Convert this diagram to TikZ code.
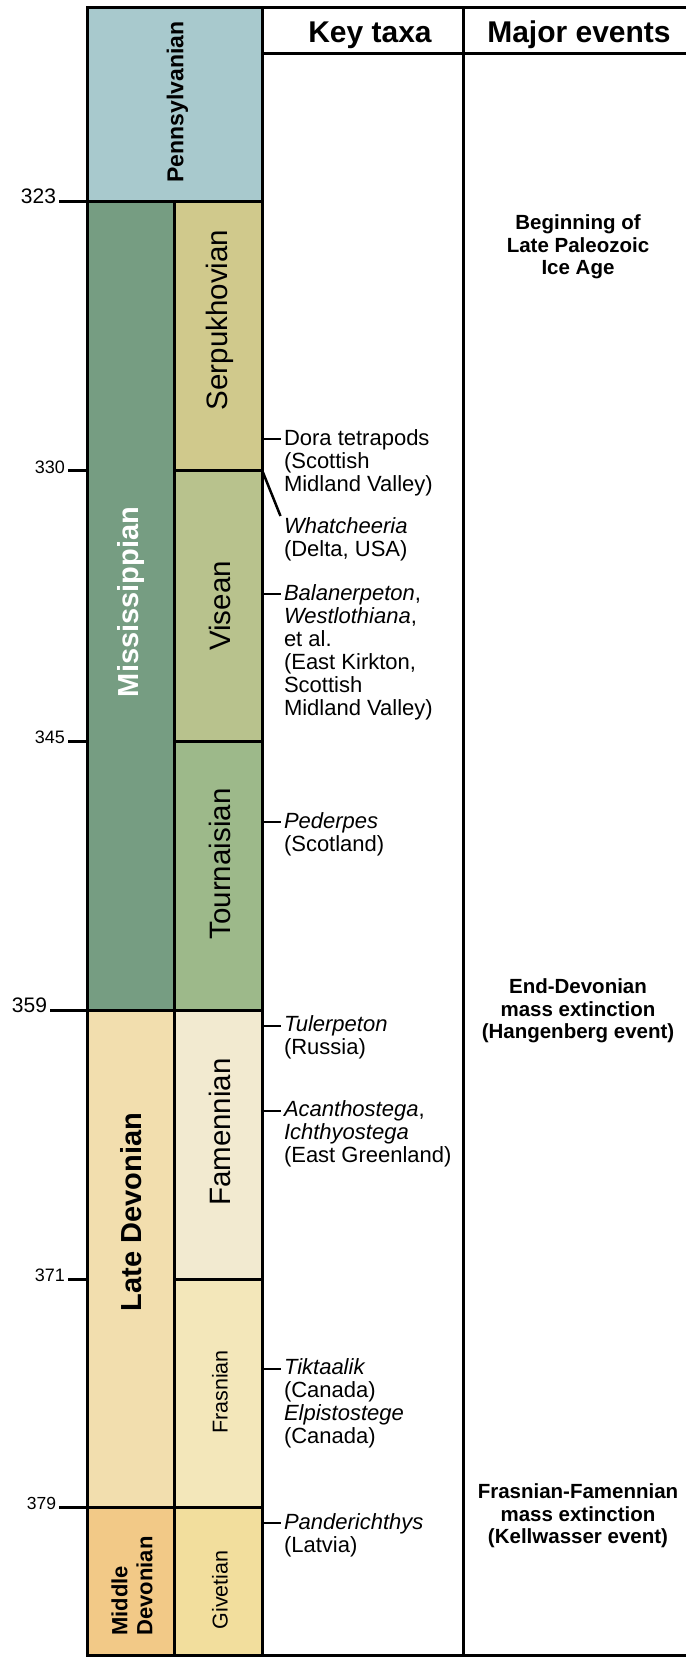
\documentclass[tikz,border=0pt]{standalone}
\usepackage{fontspec}
\setmainfont{Liberation Sans}
\usetikzlibrary{positioning}
\definecolor{pennblue}{HTML}{A8C9CD}
\definecolor{missgreen}{HTML}{769D82}
\definecolor{serpcol}{HTML}{D0C98C}
\definecolor{visecol}{HTML}{B8C28D}
\definecolor{tourcol}{HTML}{9DB98A}
\definecolor{latedev}{HTML}{F2DEAE}
\definecolor{famecol}{HTML}{F2EAD0}
\definecolor{frascol}{HTML}{F3E7BA}
\definecolor{middev}{HTML}{F2C987}
\definecolor{givecol}{HTML}{F2DE9D}

\begin{document}
\begin{tikzpicture}[x=1pt,y=-1pt,line width=3pt,
  period/.style={rotate=90,inner sep=0pt,font=\fontsize{29}{31}\selectfont\bfseries},
  smallperiod/.style={rotate=90,inner sep=0pt,align=left,font=\fontsize{22}{25}\selectfont\bfseries},
  stage/.style={rotate=90,inner sep=0pt,font=\fontsize{29.5}{31}\selectfont},
  smallstage/.style={rotate=90,inner sep=0pt,font=\fontsize{21.5}{24}\selectfont},
  age/.style={anchor=base east,inner sep=0pt,inner xsep=1.5pt,font=\fontsize{18}{20}\selectfont},
  bigage/.style={age,font=\fontsize{21}{23}\selectfont},
  taxon/.style={anchor=north west,inner sep=0pt,inner xsep=2pt,align=left,font=\fontsize{22}{23}\selectfont},
  event/.style={align=center,inner sep=0pt,font=\fontsize{20.5}{22.5}\selectfont\bfseries},
  head/.style={anchor=base,inner sep=0pt,font=\fontsize{30}{32}\selectfont\bfseries},
  tick/.style={line width=2.5pt}]
  \useasboundingbox (0,0) rectangle (686,1657);

  \fill[pennblue] (87.5,7) rectangle (262,201);
  \fill[missgreen] (87.5,201) rectangle (174,1010);
  \fill[serpcol] (174,201) rectangle (262,470);
  \fill[visecol] (174,470) rectangle (262,741);
  \fill[tourcol] (174,741) rectangle (262,1010);
  \fill[latedev] (87.5,1010) rectangle (174,1507);
  \fill[famecol] (174,1010) rectangle (262,1279);
  \fill[frascol] (174,1279) rectangle (262,1507);
  \fill[middev] (87.5,1507) rectangle (174,1655);
  \fill[givecol] (174,1507) rectangle (262,1655);

  \draw (686,7) -- (87.5,7) -- (87.5,1655) -- (686,1655);
  \draw (262,53) -- (686,53);
  \draw (174,201) -- (174,1655);
  \draw (262,7) -- (262,1655);
  \draw (463,7) -- (463,1655);
  \draw (87.5,201) -- (262,201);
  \draw (174,470) -- (262,470);
  \draw (174,741) -- (262,741);
  \draw (87.5,1010) -- (262,1010);
  \draw (174,1279) -- (262,1279);
  \draw (87.5,1507) -- (262,1507);

  \node[head] (keyhead) at (370,42) {Key taxa};
  \node[head] (evhead) at (579,42) {Major events};

  \node[smallperiod,font=\fontsize{23}{25}\selectfont\bfseries] (penn) at (177.5,102) {Pennsylvanian};
  \node[period,white] (miss) at (131.5,602) {Mississippian};
  \node[period] (ldev) at (131.5,1212) {Late Devonian};
  \node[smallperiod] (mdev) at (132,1586) {Middle\\Devonian};

  \node[stage] (serp) at (219.5,320) {Serpukhovian};
  \node[stage] (vise) at (220,606) {Visean};
  \node[stage] (tour) at (220,864) {Tournaisian};
  \node[stage] (fame) at (220,1132) {Famennian};
  \node[smallstage] (fras) at (220,1392) {Frasnian};
  \node[smallstage] (give) at (220,1590) {Givetian};

  \coordinate (e323) at (87.5,201);
  \coordinate (e330) at (87.5,470);
  \coordinate (e345) at (87.5,741);
  \coordinate (e359) at (87.5,1010);
  \coordinate (e371) at (87.5,1279);
  \coordinate (e379) at (87.5,1507);
  \node[bigage] (a323) at (59,203.5) {323};
  \node[age] (a330) at (68,473) {330};
  \node[age] (a345) at (68,743.5) {345};
  \node[bigage] (a359) at (50,1012) {359};
  \node[age] (a371) at (68,1281.5) {371};
  \node[age,font=\fontsize{17.5}{20}\selectfont] (a379) at (59,1509.5) {379};
  \draw (e323) -- (e323 -| a323.east);
  \draw (e330) -- (e330 -| a330.east);
  \draw (e345) -- (e345 -| a345.east);
  \draw (e359) -- (e359 -| a359.east);
  \draw (e371) -- (e371 -| a371.east);
  \draw (e379) -- (e379 -| a379.east);

  \coordinate (k1) at (262,439);
  \coordinate (k2) at (262,470);
  \coordinate (k3) at (262,594);
  \coordinate (k4) at (262,822);
  \coordinate (k5) at (262,1026);
  \coordinate (k6) at (262,1111);
  \coordinate (k7) at (262,1369);
  \coordinate (k8) at (262,1523);
  \node[taxon] (dora) at (280.5,428) {Dora tetrapods\\(Scottish\\Midland Valley)};
  \node[taxon] (whatch) at (280.5,516) {\textit{Whatcheeria}\\(Delta, USA)};
  \node[taxon] (balan) at (280.5,583) {\textit{Balanerpeton},\\\textit{Westlothiana},\\et al.\\(East Kirkton,\\Scottish\\Midland Valley)};
  \node[taxon] (peder) at (280.5,811) {\textit{Pederpes}\\(Scotland)};
  \node[taxon] (tuler) at (280.5,1014) {\textit{Tulerpeton}\\(Russia)};
  \node[taxon] (acan) at (280.5,1099) {\textit{Acanthostega},\\\textit{Ichthyostega}\\(East Greenland)};
  \node[taxon] (tikt) at (280.5,1357) {\textit{Tiktaalik}\\(Canada)\\\textit{Elpistostege}\\(Canada)};
  \node[taxon] (pand) at (280.5,1512.5) {\textit{Panderichthys}\\(Latvia)};
  \draw[tick] (k1) -- (k1 -| dora.west);
  \draw[tick] (k2) -- (whatch.north west);
  \draw[tick] (k3) -- (k3 -| balan.west);
  \draw[tick] (k4) -- (k4 -| peder.west);
  \draw[tick] (k5) -- (k5 -| tuler.west);
  \draw[tick] (k6) -- (k6 -| acan.west);
  \draw[tick] (k7) -- (k7 -| tikt.west);
  \draw[tick] (k8) -- (k8 -| pand.west);

  \node[event] (iceage) at (578,247) {Beginning of\\Late Paleozoic\\Ice Age};
  \node[event] (hangen) at (578,1011) {End-Devonian\\mass extinction\\(Hangenberg event)};
  \node[event] (kellw) at (578,1516) {Frasnian-Famennian\\mass extinction\\(Kellwasser event)};
\end{tikzpicture}
\end{document}
